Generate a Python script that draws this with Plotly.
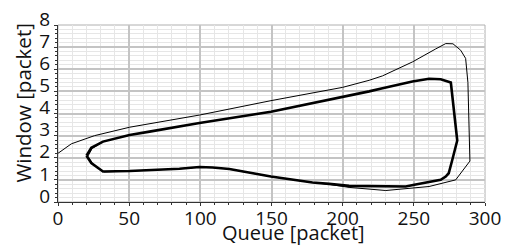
import plotly.graph_objects as go

# Outer (transient) trajectory
outer_q = [0, 9.4, 25.7, 50.3, 99.4, 149.6, 199.9, 218.6, 228, 249, 265.4, 272.4, 277.5, 282.9, 286.4, 288,
           289.4, 279.4, 260.7, 230.3, 204.5, 190.5, 178.8, 149.6, 120.4, 108.7, 99.4, 85.3, 50.3, 32.5,
           24.5, 21.0, 24.0, 31.6]
outer_w = [2.2, 2.63, 3.0, 3.38, 3.93, 4.58, 5.18, 5.5, 5.7, 6.33, 6.92, 7.16, 7.15, 6.86, 6.49, 5.4,
           1.85, 1.0, 0.7, 0.52, 0.66, 0.8, 0.88, 1.15, 1.49, 1.56, 1.58, 1.5, 1.4, 1.36,
           1.72, 2.07, 2.42, 2.72]

# Inner (limit cycle) trajectory
inner_q = [20.0, 23.4, 31.6, 50.3, 64.3, 91.2, 99.4, 149.6, 199.9, 218.6, 228, 249, 260.7, 268.9, 276,
           280.5, 277, 274.5, 272.4, 268.9, 251.3, 244.3, 204.5, 197.5, 190.5, 178.8, 149.6, 120.4,
           108.7, 99.4, 85.3, 50.3, 31.6, 23.4, 20.0]
inner_w = [2.09, 2.45, 2.73, 3.03, 3.18, 3.48, 3.57, 4.08, 4.73, 5.0, 5.14, 5.45, 5.57, 5.55, 5.4,
           2.78, 1.9, 1.3, 1.15, 1.0, 0.79, 0.7, 0.73, 0.76, 0.82, 0.88, 1.15, 1.49,
           1.56, 1.58, 1.5, 1.4, 1.38, 1.76, 2.09]

x_ticks = [0, 50, 100, 150, 200, 250, 300]
y_ticks = [0, 1, 2, 3, 4, 5, 6, 7, 8]

FONT = "Open Sans"

fig = go.Figure()
fig.add_trace(go.Scatter(x=outer_q, y=outer_w, mode="lines",
                         line=dict(color="black", width=1), showlegend=False))
fig.add_trace(go.Scatter(x=inner_q, y=inner_w, mode="lines",
                         line=dict(color="black", width=2.6), showlegend=False))

axis_common = dict(
    showgrid=True, gridcolor="#c4c4c4", gridwidth=1.5,
    zeroline=False, showline=True, linecolor="#333333", linewidth=1,
    ticks="outside", ticklen=3, tickcolor="#333333", automargin=False,
    tickfont=dict(family=FONT, size=19, color="#111111"),
)

fig.update_xaxes(range=[0, 300], tickvals=x_ticks, ticktext=[str(v) for v in x_ticks],
                 ticklabelstandoff=-4,
                 minor=dict(dtick=10, showgrid=True, gridcolor="#e6e6e6", gridwidth=1,
                            ticks="outside", ticklen=2, tickcolor="#333333"),
                 **axis_common)
fig.update_yaxes(range=[0, 8], tickvals=y_ticks, ticktext=[str(v) for v in y_ticks],
                 ticklabelshift=-6,
                 minor=dict(dtick=0.2, showgrid=True, gridcolor="#e6e6e6", gridwidth=1,
                            ticks="outside", ticklen=2, tickcolor="#333333"),
                 **axis_common)

fig.add_shape(type="rect", xref="paper", yref="paper", x0=0, x1=1, y0=0, y1=1,
              line=dict(color="#b0b0b0", width=1), layer="below")

fig.add_annotation(text="Queue [packet]", xref="paper", yref="paper", x=0.552, y=-0.173,
                   xanchor="center", yanchor="middle", showarrow=False,
                   font=dict(family=FONT, size=20, color="#111111"))
fig.add_annotation(text="Window [packet]", xref="paper", yref="paper", x=-0.083, y=0.559,
                   xanchor="center", yanchor="middle", showarrow=False, textangle=-90,
                   font=dict(family=FONT, size=20.5, color="#111111"))

fig.update_layout(width=514, height=247, margin=dict(l=58, r=29, t=25, b=45),
                  plot_bgcolor="white", paper_bgcolor="white")

fig.write_html("out.html", config={"displayModeBar": False},
               post_script="document.body.style.margin='0';document.body.style.overflow='hidden';")
